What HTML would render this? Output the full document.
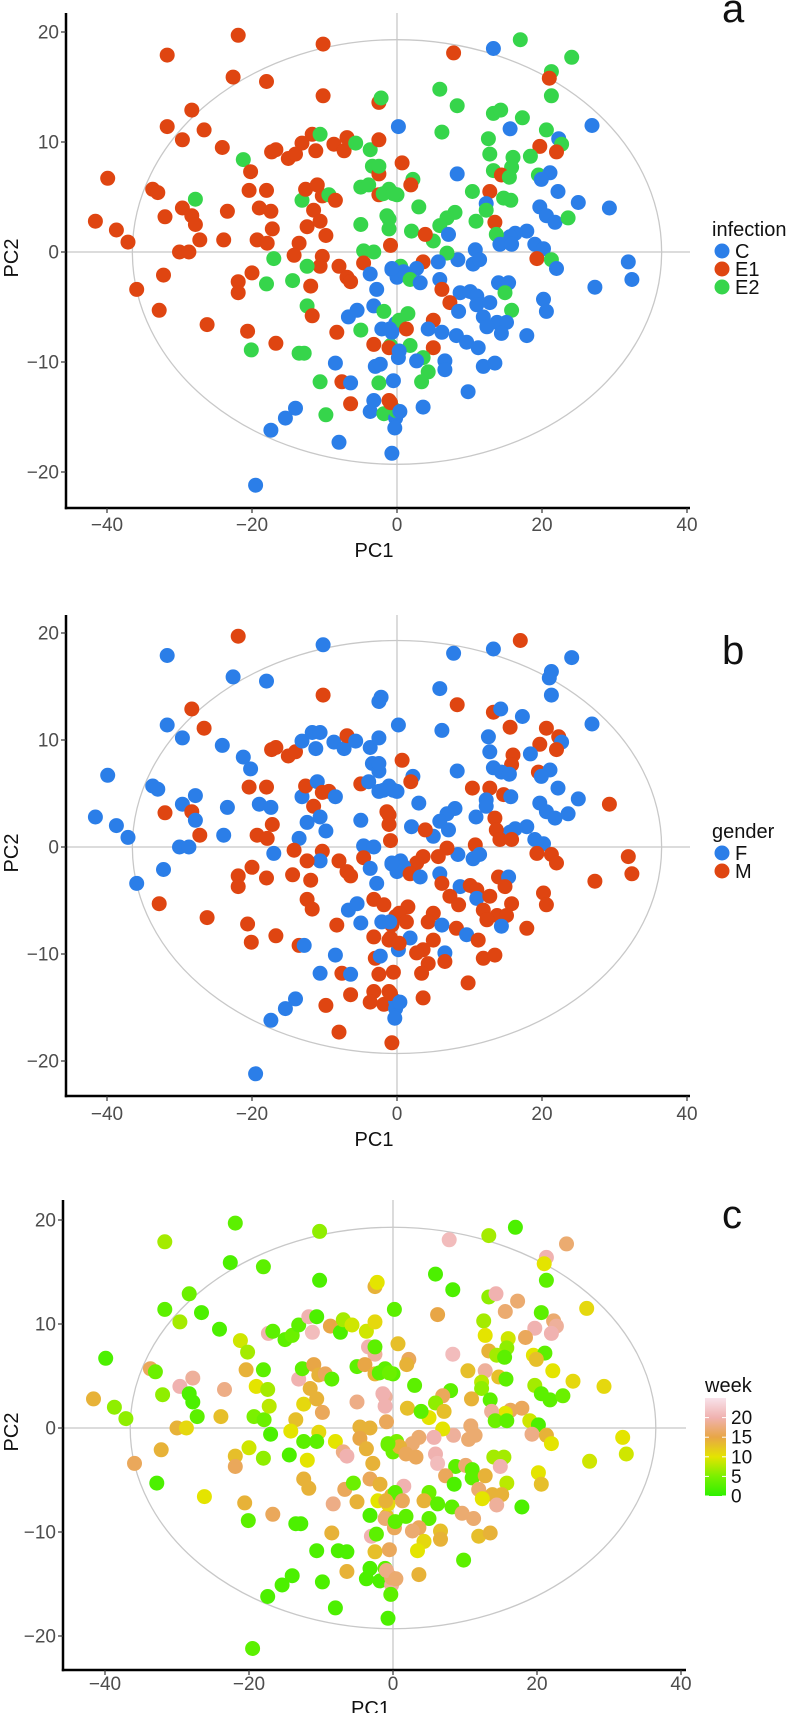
<!DOCTYPE html>
<html><head><meta charset="utf-8">
<style>
html,body{margin:0;padding:0;background:#fff;}
svg{display:block;font-family:"Liberation Sans",Arial,sans-serif;}
</style></head>
<body>
<svg id="chart" width="800" height="1713" viewBox="0 0 800 1713" xmlns="http://www.w3.org/2000/svg"></svg>
<script>
// ---- data (shared PCA coordinates) ----
const pc1 = [
-21.9,-10.2,-31.7,-22.6,-18.0,-10.2,-2.5,-2.2,-28.3,-31.7,
-26.6,-29.6,-24.1,-21.2,-20.2,-17.3,-16.7,-15.0,-14.0,-13.1,
-11.7,-10.6,-11.2,-8.7,-7.3,-6.9,-5.7,-3.7,-2.5,-3.4,
-2.5,-2.5,-5.0,-3.9,-2.5,-1.1,0,-39.9,-33.7,-33.0,
-20.4,-18.0,-27.8,-29.6,-28.3,-27.8,-32.0,-23.4,-19.0,-17.4,
-41.6,-38.7,-37.1,-27.2,-23.9,-30.0,-28.7,-19.3,-17.9,-17.2,
-17.0,-13.1,-12.6,-11.0,-10.3,-9.4,-8.5,-11.5,-12.4,-10.6,
-9.8,-13.5,-14.2,-10.3,-10.6,-12.4,-5.0,-4.6,-3.2,-4.6,
-1.1,-1.1,-0.9,-3.7,-2.8,-0.7,-8.0,-6.9,-6.4,-20.0,
-21.9,-21.9,-18.0,-14.4,-11.9,-32.2,-35.9,-32.8,-26.2,-20.6,
-20.1,-16.7,-13.5,-12.8,-12.4,-11.7,-6.7,-5.5,-5.0,-8.3,
-3.2,-1.8,-2.1,-3.2,-0.2,-0.9,-8.5,-10.6,-7.6,-6.4,
-3.0,-2.3,-2.5,-6.4,-3.2,-3.7,-1.1,-1.8,-9.8,-14.0,
-15.4,-17.4,-8.0,-19.5,-0.2,-0.7,-0.2,0.2,-1.1,-0.7,
0,0.5,0.2,17.0,7.8,13.3,24.1,21.3,21.0,21.3,
5.9,8.3,13.3,14.3,17.3,15.6,26.9,6.2,12.6,12.8,
16.0,20.6,22.3,22.7,22.0,19.7,18.4,15.8,0.7,8.3,
13.3,14.4,15.5,19.5,21.1,19.9,2.2,1.9,-1.9,-0.5,
10.4,12.8,14.7,15.7,22.2,25.0,29.3,3.0,12.3,12.3,
8.0,6.9,10.9,5.9,7.1,5.0,2.0,3.9,-1.4,19.7,
20.6,21.8,23.6,17.9,16.3,15.6,13.5,13.7,14.2,15.8,
19.0,20.2,10.8,19.3,21.3,22.0,31.9,32.4,27.3,8.4,
10.5,11.4,6.9,5.7,3.6,2.7,0.9,-0.7,1.8,5.9,
6.2,3.2,8.7,10.1,11.0,14.0,15.4,14.9,20.2,20.6,
7.3,8.5,11.0,12.8,15.8,11.9,13.8,15.1,14.4,17.9,
5.0,4.3,6.2,8.2,9.6,11.2,12.4,1.5,0.3,-1.0,
1.3,1.8,0.3,5.0,3.6,2.7,6.6,6.6,4.3,3.4,
11.9,13.5,9.8,-0.5,3.6,-0.9,0.4,-0.3
];
const pc2 = [
19.7,18.9,17.9,15.9,15.5,14.2,13.6,14.0,12.9,11.4,
11.1,10.2,9.5,8.4,7.3,9.1,9.3,8.5,8.9,9.9,
10.7,10.7,9.2,9.8,9.2,10.4,9.9,9.3,10.2,7.8,
7.1,7.8,5.9,6.1,5.2,5.7,5.2,6.7,5.7,5.4,
5.6,5.6,4.8,4.0,3.3,2.5,3.2,3.7,4.0,3.7,
2.8,2.0,0.9,1.1,1.1,0,0,1.1,0.8,2.1,
-0.6,4.7,5.7,6.1,5.1,5.2,4.7,3.8,2.3,2.8,
1.5,0.8,-0.3,-0.4,-1.3,-1.3,2.5,0.1,0,-1.0,
3.0,2.1,0.6,-2.0,-3.4,-1.6,-1.3,-2.3,-2.7,-1.9,
-2.7,-3.7,-2.9,-2.6,-3.1,-2.1,-3.4,-5.3,-6.6,-7.2,
-8.9,-8.3,-9.2,-9.2,-4.9,-5.8,-5.9,-5.3,-7.1,-7.3,
-4.9,-5.4,-7.0,-8.4,-6.5,-8.5,-10.1,-11.8,-11.8,-11.9,
-10.4,-10.2,-11.9,-13.8,-13.5,-14.5,-13.5,-14.7,-14.8,-14.2,
-15.1,-16.2,-17.3,-21.2,-15.1,-18.3,-14.4,-9.6,-8.7,-7.3,
-2.3,-1.3,11.4,19.3,18.1,18.5,17.7,16.4,15.8,14.2,
14.8,13.3,12.6,12.9,12.2,11.2,11.5,10.9,10.3,8.9,
8.6,11.1,10.3,9.8,9.1,9.6,8.7,7.7,8.1,7.1,
7.4,7.0,6.8,7.0,7.2,6.6,6.6,6.1,5.3,5.3,
5.5,5.5,4.9,4.7,5.5,4.5,4.0,4.1,4.4,3.8,
3.6,3.1,2.8,2.4,1.6,1.0,1.9,1.6,3.3,4.1,
3.3,2.7,3.1,1.9,1.7,1.4,2.7,1.6,0.7,0.7,
0.7,0.3,0.2,-0.6,-0.7,-1.5,-0.9,-2.5,-3.2,-0.7,
-1.1,-0.7,-0.1,-0.9,-0.9,-1.5,-1.8,-1.5,-2.5,-2.5,
-3.4,-2.8,-3.7,-3.6,-4.0,-2.8,-2.8,-3.7,-4.3,-5.4,
-4.6,-5.4,-4.8,-4.6,-5.3,-5.9,-6.4,-6.4,-7.4,-7.6,
-6.2,-7.0,-7.3,-7.6,-8.2,-8.7,-6.8,-5.6,-6.2,-7.0,
-7.0,-8.5,-9.0,-8.7,-9.6,-9.9,-9.9,-10.7,-10.9,-11.8,
-10.4,-10.1,-12.7,-11.7,-14.1,-13.7,-14.5,-16.0
];
const infection = [
"E1","E1","E1","E1","E1","E1","E1","E2","E1","E1",
"E1","E1","E1","E2","E1","E1","E1","E1","E1","E1",
"E1","E2","E1","E1","E1","E1","E2","E2","E1","E2",
"E1","E2","E2","E2","E1","E2","E2","E1","E1","E1",
"E1","E1","E2","E1","E1","E1","E1","E1","E1","E1",
"E1","E1","E1","E1","E1","E1","E1","E1","E1","E1",
"E2","E2","E1","E1","E1","E2","E1","E1","E1","E1",
"E1","E1","E1","E1","E1","E2","E2","E2","E2","E1",
"E2","E2","E1","C","C","C","E1","E1","E1","E1",
"E1","E1","E2","E2","E1","E1","E1","E1","E1","E1",
"E2","E1","E2","E2","E2","E1","C","C","E2","E1",
"C","E2","C","E1","C","E2","C","E2","E1","C",
"C","C","E2","E1","C","C","E1","E2","E2","C",
"C","C","C","C","C","C","E2","C","E1","C",
"C","E2","C","E2","E1","C","E2","E2","E1","E2",
"E2","E2","E2","E2","E2","C","C","E2","E2","E2",
"E2","E2","C","E2","E1","E1","E2","E2","E1","C",
"E2","E1","E2","E2","C","C","E2","E1","E2","E2",
"E2","E1","E2","E2","C","C","C","E2","C","E2",
"E2","E2","E2","E2","C","E2","E2","E1","E2","C",
"C","C","E2","C","C","C","E1","E2","C","C",
"C","C","C","E1","E2","C","C","C","C","C",
"C","C","E2","C","E1","C","C","C","E2","C",
"E1","C","C","C","C","C","C","E2","C","C",
"E1","C","C","C","E2","C","C","C","C","C",
"E1","C","C","C","C","C","C","E2","E2","C",
"E1","E2","C","E1","E2","C","C","C","E2","E2",
"C","C","C","C","C","E1","C","C"
];
const gender = [
"M","F","F","F","F","M","F","F","M","F",
"M","F","F","F","F","M","M","M","M","F",
"F","F","F","F","F","M","F","F","F","F",
"F","F","M","F","F","F","F","F","F","F",
"M","M","F","F","M","F","M","F","F","F",
"F","F","F","M","F","F","F","M","M","M",
"F","F","M","F","M","M","F","M","F","F",
"F","F","M","M","F","M","F","F","F","M",
"M","M","M","F","F","F","M","M","M","M",
"M","M","M","M","M","F","F","M","M","M",
"M","M","M","F","M","M","F","F","F","M",
"M","M","F","M","M","M","F","F","M","F",
"M","F","M","M","M","M","M","M","M","F",
"F","F","M","F","F","M","F","F","M","M",
"F","F","F","M","F","F","F","F","F","F",
"F","M","M","F","F","M","F","F","F","F",
"M","M","M","F","M","M","F","M","M","F",
"F","F","F","M","F","F","F","M","F","F",
"M","M","M","F","F","F","M","F","F","F",
"F","F","F","F","F","F","F","M","M","F",
"F","F","F","F","F","F","M","M","M","M",
"F","F","M","M","M","M","M","M","M","F",
"F","F","M","M","M","M","F","F","M","F",
"M","F","F","M","M","M","F","M","M","M",
"M","M","F","M","M","M","M","M","F","M",
"M","M","F","M","F","M","M","M","M","F",
"M","F","M","M","M","M","F","M","M","M",
"M","M","M","M","M","M","F","F"
];
const week = [
3,6,7,2,3,2,14,10,4,3,
2,7,2,9,7,20,3,3,4,3,
20,2,21,15,2,7,9,9,11,20,
19,3,3,15,14,3,3,2,16,4,
14,3,19,20,2,2,6,18,10,7,
14,6,6,3,13,14,11,5,4,8,
2,20,3,15,14,16,3,14,11,14,
16,13,10,11,3,3,18,14,14,15,
19,20,16,14,14,4,10,18,20,9,
13,16,6,2,10,14,16,2,10,14,
3,16,2,2,14,14,16,4,14,18,
16,14,10,2,14,13,14,2,2,2,
20,3,13,14,2,2,3,2,2,2,
2,2,2,3,19,2,17,16,17,11,
4,5,3,2,21,7,17,20,10,3,
2,2,6,20,17,17,11,15,7,10,
9,3,17,19,20,20,16,6,13,21,
14,7,3,10,3,13,16,14,3,4,
13,19,13,3,10,11,11,3,8,6,
3,16,14,6,13,10,13,3,20,7,
3,3,4,16,16,10,3,19,4,3,
9,2,17,18,14,10,10,9,9,19,
17,17,10,20,17,17,14,4,16,20,
21,16,3,17,3,7,7,20,10,13,
16,2,3,14,8,17,14,14,19,2,
4,14,3,3,17,17,10,20,3,14,
16,3,3,3,16,17,13,14,11,10,
13,14,3,16,14,18,17,3
];
const xTicks = [-40, -20, 0, 20, 40];
const yTicks = [-20, -10, 0, 10, 20];
const weekTicks = [0, 5, 10, 15, 20];
const infectionLevels = ["C", "E1", "E2"];
const genderLevels = ["F", "M"];
const ellipseR = [36.5, 19.3];

// ---- styling / layout ----
const NS = "http://www.w3.org/2000/svg";
const svg = document.getElementById("chart");
const catColor = {C:"#2b7ee8", E1:"#df4511", E2:"#36d54b", F:"#2b7ee8", M:"#df4511"};
const weekStops = [[0,[46,240,0]],[5,[122,240,0]],[10,[228,228,0]],[15,[232,166,70]],[20,[240,178,176]],[25,[248,226,234]]];
function weekColor(w){
  for(let i=0;i<weekStops.length-1;i++){
    const a=weekStops[i], b=weekStops[i+1];
    if(w<=b[0]){const t=(w-a[0])/(b[0]-a[0]);
      const c=a[1].map((v,k)=>Math.round(v+(b[1][k]-v)*t));
      return "rgb("+c.join(",")+")";}
  }
  return "rgb(248,226,234)";
}
function mk(tag, attrs, parent){
  const e=document.createElementNS(NS,tag);
  for(const k in attrs) e.setAttribute(k,attrs[k]);
  (parent||svg).appendChild(e); return e;
}
function txt(s, attrs, parent){const e=mk("text",attrs,parent); e.textContent=s; return e;}

const panels = [
  {key:"a", x0:397, sx:7.25, y0:252, sy:11.0, top:13, bottom:508, left:66, right:690, tickY:524, titleY:550, pc2Y:258, letterY:22},
  {key:"b", x0:397, sx:7.25, y0:847, sy:10.7, top:615, bottom:1096, left:66, right:690, tickY:1113, titleY:1139, pc2Y:853, letterY:664},
  {key:"c", x0:393, sx:7.2, y0:1428, sy:10.4, top:1200, bottom:1670, left:63, right:686, tickY:1683, titleY:1708, pc2Y:1432, letterY:1228}
];

panels.forEach(function(p){
  const X = v => p.x0 + v*p.sx;
  const Y = v => p.y0 - v*p.sy;
  const g = mk("g",{});
  
  

  // reference lines
  const vl = mk("line",{x1:X(0),x2:X(0),y1:p.top,y2:p.bottom,stroke:"#c8c8c8","stroke-width":1.3},g);
  
  
  const hl = mk("line",{x1:p.left,x2:p.right,y1:Y(0),y2:Y(0),stroke:"#c8c8c8","stroke-width":1.3},g);
  
  
  const el = mk("ellipse",{cx:X(0),cy:Y(0),rx:ellipseR[0]*p.sx,ry:ellipseR[1]*p.sy,fill:"none",stroke:"#c8c8c8","stroke-width":1.3},g);
  
  

  // points
  const pg = mk("g",{},g);
  
  
  for(let i=0;i<pc1.length;i++){
    let col;
    if(p.key==="a") col=catColor[infection[i]];
    else if(p.key==="b") col=catColor[gender[i]];
    else col=weekColor(week[i]);
    const c = mk("circle",{cx:X(pc1[i]).toFixed(1),cy:Y(pc2[i]).toFixed(1),r:7.5,fill:col},pg);
    
    
  }

  // axes
  const ya = mk("line",{x1:p.left,x2:p.left,y1:p.top,y2:p.bottom+1.2,stroke:"#000","stroke-width":2.5},g);
  
  
  const xa = mk("line",{x1:p.left-1.2,x2:p.right,y1:p.bottom,y2:p.bottom,stroke:"#000","stroke-width":2.5},g);
  
  

  yTicks.forEach(function(t){
    const tk = mk("line",{x1:p.left-5,x2:p.left,y1:Y(t),y2:Y(t),stroke:"#333","stroke-width":1.2},g);
    
    
    const lb = txt(String(t).replace("-","\u2212"),{x:p.left-7,y:Y(t)+6.5,"text-anchor":"end","font-size":19,fill:"#4d4d4d"},g);
    
    
  });
  xTicks.forEach(function(t){
    const tk = mk("line",{x1:X(t),x2:X(t),y1:p.bottom,y2:p.bottom+5,stroke:"#333","stroke-width":1.2},g);
    
    
    const lb = txt(String(t).replace("-","\u2212"),{x:X(t),y:p.tickY+7,"text-anchor":"middle","font-size":19,fill:"#4d4d4d"},g);
    
    
  });
  const xt = txt("PC1",{x:(p.left+p.right)/2-4,y:p.titleY+7,"text-anchor":"middle","font-size":20,fill:"#111"},g);
  
  
  const yt = txt("PC2",{x:0,y:0,"text-anchor":"middle","font-size":20,fill:"#111",transform:"translate(18,"+p.pc2Y+") rotate(-90)"},g);
  
  
  const lt = txt(p.key,{x:722,y:p.letterY,"font-size":40,fill:"#111"},g);
  
  

  // legends
  if(p.key==="a" || p.key==="b"){
    const levels = p.key==="a" ? infectionLevels : genderLevels;
    const lg = mk("g",{},g);
    
    
    const startY = p.key==="a" ? 251 : 853;
    const tt = txt(p.key==="a" ? "infection" : "gender",{x:712,y:startY-15,"font-size":20,fill:"#111"},lg);
    
    
    levels.forEach(function(lv,k){
      const cy = startY + k*18;
      const lc = mk("circle",{cx:722,cy:cy,r:7.5,fill:catColor[lv]},lg);
      
      
      const ll = txt(lv,{x:735,y:cy+7,"font-size":20,fill:"#111"},lg);
      
      
    });
  } else {
    const lg = mk("g",{},g);
    
    
    const tt = txt("week",{x:705,y:1392,"font-size":20,fill:"#111"},lg);
    
    
    const defs = mk("defs",{},lg);
    const gr = mk("linearGradient",{id:"wk",x1:0,y1:1,x2:0,y2:0},defs);
    weekStops.forEach(function(s){
      mk("stop",{offset:(s[0]/25*100)+"%","stop-color":"rgb("+s[1].join(",")+")"},gr);
    });
    const barBottom=1496, barTop=1398, pxw=(barBottom-barTop)/25;
    const bar = mk("rect",{x:705,y:barTop,width:21,height:barBottom-barTop,fill:"url(#wk)"},lg);
    
    
    weekTicks.forEach(function(t){
      const yy = barBottom - t*pxw;
      const tk = mk("line",{x1:705,x2:709,y1:yy,y2:yy,stroke:"#fff","stroke-width":1},lg);
      
      
      const tk2 = mk("line",{x1:722,x2:726,y1:yy,y2:yy,stroke:"#fff","stroke-width":1},lg);
      
      
      const lb = txt(String(t),{x:731,y:yy+6.5,"font-size":19,fill:"#111"},lg);
      
      
    });
  }
});
</script>
</body></html>
